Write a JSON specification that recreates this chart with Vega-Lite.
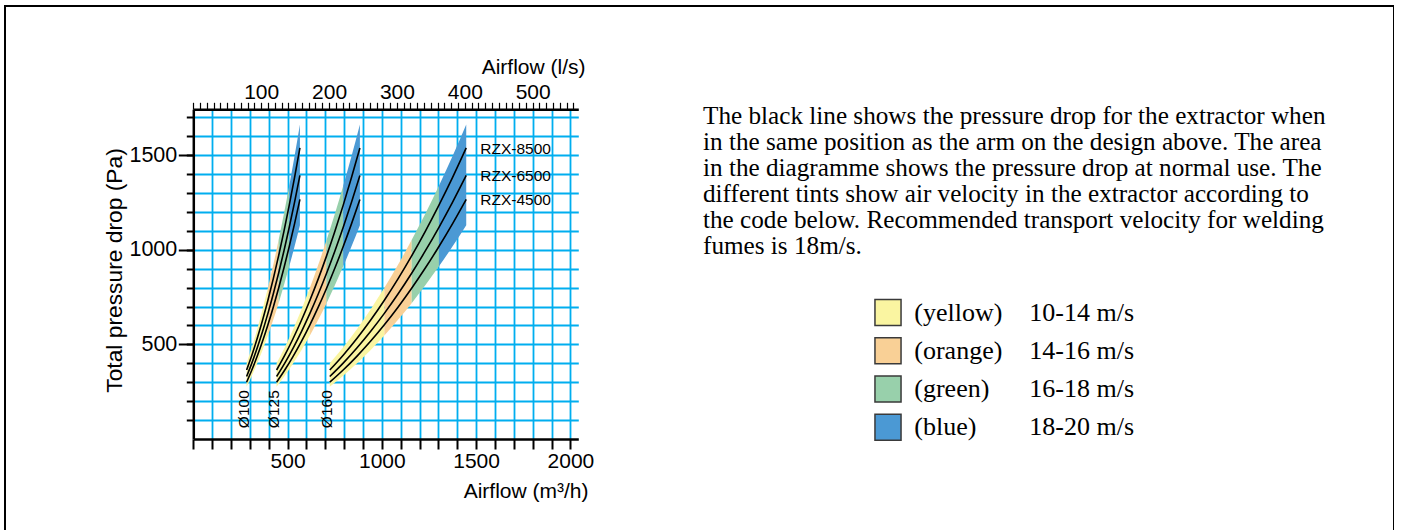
{
  "$schema": "https://vega.github.io/schema/vega-lite/v6.json",
  "width": 1389,
  "height": 524,
  "autosize": "none",
  "padding": {"left": 5, "top": 6, "right": 0, "bottom": 0},
  "background": "#ffffff",
  "config": {
    "view": {"stroke": "#000000", "strokeWidth": 2, "strokeDash": [1913, 1389, 540]},
    "font": "Liberation Sans",
    "axis": {
      "labelFont": "Liberation Sans", "titleFont": "Liberation Sans",
      "labelColor": "#000000", "titleColor": "#000000",
      "domainColor": "#000000", "tickColor": "#000000",
      "titleFontWeight": "normal", "labelFontSize": 21, "titleFontSize": 21,
      "gridColor": "#00AEEF", "gridWidth": 1.8, "gridOpacity": 1,
      "labelOverlap": false, "labelFlush": false, "format": "d"
    }
  },
  "datasets": {
    "bands": [
      {"d":"Ø100","tint":"yellow","v":10,"q":282.7,"lo":276,"hi":400},
      {"d":"Ø100","tint":"yellow","v":11,"q":311.0,"lo":335.0,"hi":486.6},
      {"d":"Ø100","tint":"yellow","v":12,"q":339.3,"lo":399.9,"hi":581.8},
      {"d":"Ø100","tint":"yellow","v":13,"q":367.6,"lo":470.6,"hi":685.8},
      {"d":"Ø100","tint":"yellow","v":14,"q":395.8,"lo":547.1,"hi":798.6},
      {"d":"Ø100","tint":"orange","v":14,"q":395.8,"lo":547.1,"hi":798.6},
      {"d":"Ø100","tint":"orange","v":15,"q":424.1,"lo":629.5,"hi":920.3},
      {"d":"Ø100","tint":"orange","v":16,"q":452.4,"lo":717.8,"hi":1050.8},
      {"d":"Ø100","tint":"green","v":16,"q":452.4,"lo":717.8,"hi":1050.8},
      {"d":"Ø100","tint":"green","v":17,"q":480.7,"lo":812.0,"hi":1190.2},
      {"d":"Ø100","tint":"green","v":18,"q":508.9,"lo":912.1,"hi":1338.6},
      {"d":"Ø100","tint":"blue","v":18,"q":508.9,"lo":912.1,"hi":1338.6},
      {"d":"Ø100","tint":"blue","v":19,"q":537.2,"lo":1018.1,"hi":1495.9},
      {"d":"Ø100","tint":"blue","v":20,"q":565.5,"lo":1130,"hi":1662},
      {"d":"Ø125","tint":"yellow","v":10,"q":441.8,"lo":276,"hi":400},
      {"d":"Ø125","tint":"yellow","v":11,"q":486.0,"lo":335.0,"hi":486.6},
      {"d":"Ø125","tint":"yellow","v":12,"q":530.1,"lo":399.9,"hi":581.8},
      {"d":"Ø125","tint":"yellow","v":13,"q":574.3,"lo":470.6,"hi":685.8},
      {"d":"Ø125","tint":"yellow","v":14,"q":618.5,"lo":547.1,"hi":798.6},
      {"d":"Ø125","tint":"orange","v":14,"q":618.5,"lo":547.1,"hi":798.6},
      {"d":"Ø125","tint":"orange","v":15,"q":662.7,"lo":629.5,"hi":920.3},
      {"d":"Ø125","tint":"orange","v":16,"q":706.9,"lo":717.8,"hi":1050.8},
      {"d":"Ø125","tint":"green","v":16,"q":706.9,"lo":717.8,"hi":1050.8},
      {"d":"Ø125","tint":"green","v":17,"q":751.0,"lo":812.0,"hi":1190.2},
      {"d":"Ø125","tint":"green","v":18,"q":795.2,"lo":912.1,"hi":1338.6},
      {"d":"Ø125","tint":"blue","v":18,"q":795.2,"lo":912.1,"hi":1338.6},
      {"d":"Ø125","tint":"blue","v":19,"q":839.4,"lo":1018.1,"hi":1495.9},
      {"d":"Ø125","tint":"blue","v":20,"q":883.6,"lo":1130,"hi":1662},
      {"d":"Ø160","tint":"yellow","v":10,"q":723.8,"lo":276,"hi":400},
      {"d":"Ø160","tint":"yellow","v":11,"q":796.2,"lo":335.0,"hi":486.6},
      {"d":"Ø160","tint":"yellow","v":12,"q":868.6,"lo":399.9,"hi":581.8},
      {"d":"Ø160","tint":"yellow","v":13,"q":941.0,"lo":470.6,"hi":685.8},
      {"d":"Ø160","tint":"yellow","v":14,"q":1013.3,"lo":547.1,"hi":798.6},
      {"d":"Ø160","tint":"orange","v":14,"q":1013.3,"lo":547.1,"hi":798.6},
      {"d":"Ø160","tint":"orange","v":15,"q":1085.7,"lo":629.5,"hi":920.3},
      {"d":"Ø160","tint":"orange","v":16,"q":1158.1,"lo":717.8,"hi":1050.8},
      {"d":"Ø160","tint":"green","v":16,"q":1158.1,"lo":717.8,"hi":1050.8},
      {"d":"Ø160","tint":"green","v":17,"q":1230.5,"lo":812.0,"hi":1190.2},
      {"d":"Ø160","tint":"green","v":18,"q":1302.9,"lo":912.1,"hi":1338.6},
      {"d":"Ø160","tint":"blue","v":18,"q":1302.9,"lo":912.1,"hi":1338.6},
      {"d":"Ø160","tint":"blue","v":19,"q":1375.3,"lo":1018.1,"hi":1495.9},
      {"d":"Ø160","tint":"blue","v":20,"q":1447.6,"lo":1130,"hi":1662}
    ],
    "lines": [
      {"d":"Ø100","model":"RZX-8500","v":10,"q":282.7,"ls":78.5,"p":364.5},
      {"d":"Ø100","model":"RZX-8500","v":11,"q":311.0,"ls":86.4,"p":444.3},
      {"d":"Ø100","model":"RZX-8500","v":12,"q":339.3,"ls":94.2,"p":532.3},
      {"d":"Ø100","model":"RZX-8500","v":13,"q":367.6,"ls":102.1,"p":628.6},
      {"d":"Ø100","model":"RZX-8500","v":14,"q":395.8,"ls":109.9,"p":733.2},
      {"d":"Ø100","model":"RZX-8500","v":15,"q":424.1,"ls":117.8,"p":846.1},
      {"d":"Ø100","model":"RZX-8500","v":16,"q":452.4,"ls":125.7,"p":967.5},
      {"d":"Ø100","model":"RZX-8500","v":17,"q":480.7,"ls":133.5,"p":1097.3},
      {"d":"Ø100","model":"RZX-8500","v":18,"q":508.9,"ls":141.4,"p":1235.7},
      {"d":"Ø100","model":"RZX-8500","v":19,"q":537.2,"ls":149.2,"p":1382.6},
      {"d":"Ø100","model":"RZX-8500","v":20,"q":565.5,"ls":157.1,"p":1538.0},
      {"d":"Ø100","model":"RZX-6500","v":10,"q":282.7,"ls":78.5,"p":330},
      {"d":"Ø100","model":"RZX-6500","v":11,"q":311.0,"ls":86.4,"p":402.2},
      {"d":"Ø100","model":"RZX-6500","v":12,"q":339.3,"ls":94.2,"p":481.9},
      {"d":"Ø100","model":"RZX-6500","v":13,"q":367.6,"ls":102.1,"p":569.1},
      {"d":"Ø100","model":"RZX-6500","v":14,"q":395.8,"ls":109.9,"p":663.8},
      {"d":"Ø100","model":"RZX-6500","v":15,"q":424.1,"ls":117.8,"p":766.0},
      {"d":"Ø100","model":"RZX-6500","v":16,"q":452.4,"ls":125.7,"p":875.9},
      {"d":"Ø100","model":"RZX-6500","v":17,"q":480.7,"ls":133.5,"p":993.5},
      {"d":"Ø100","model":"RZX-6500","v":18,"q":508.9,"ls":141.4,"p":1118.7},
      {"d":"Ø100","model":"RZX-6500","v":19,"q":537.2,"ls":149.2,"p":1251.7},
      {"d":"Ø100","model":"RZX-6500","v":20,"q":565.5,"ls":157.1,"p":1392.4},
      {"d":"Ø100","model":"RZX-4500","v":10,"q":282.7,"ls":78.5,"p":300},
      {"d":"Ø100","model":"RZX-4500","v":11,"q":311.0,"ls":86.4,"p":365.7},
      {"d":"Ø100","model":"RZX-4500","v":12,"q":339.3,"ls":94.2,"p":438.1},
      {"d":"Ø100","model":"RZX-4500","v":13,"q":367.6,"ls":102.1,"p":517.4},
      {"d":"Ø100","model":"RZX-4500","v":14,"q":395.8,"ls":109.9,"p":603.4},
      {"d":"Ø100","model":"RZX-4500","v":15,"q":424.1,"ls":117.8,"p":696.4},
      {"d":"Ø100","model":"RZX-4500","v":16,"q":452.4,"ls":125.7,"p":796.3},
      {"d":"Ø100","model":"RZX-4500","v":17,"q":480.7,"ls":133.5,"p":903.2},
      {"d":"Ø100","model":"RZX-4500","v":18,"q":508.9,"ls":141.4,"p":1017.0},
      {"d":"Ø100","model":"RZX-4500","v":19,"q":537.2,"ls":149.2,"p":1137.9},
      {"d":"Ø100","model":"RZX-4500","v":20,"q":565.5,"ls":157.1,"p":1265.8},
      {"d":"Ø125","model":"RZX-8500","v":10,"q":441.8,"ls":122.7,"p":364.5},
      {"d":"Ø125","model":"RZX-8500","v":11,"q":486.0,"ls":135.0,"p":444.3},
      {"d":"Ø125","model":"RZX-8500","v":12,"q":530.1,"ls":147.3,"p":532.3},
      {"d":"Ø125","model":"RZX-8500","v":13,"q":574.3,"ls":159.5,"p":628.6},
      {"d":"Ø125","model":"RZX-8500","v":14,"q":618.5,"ls":171.8,"p":733.2},
      {"d":"Ø125","model":"RZX-8500","v":15,"q":662.7,"ls":184.1,"p":846.1},
      {"d":"Ø125","model":"RZX-8500","v":16,"q":706.9,"ls":196.4,"p":967.5},
      {"d":"Ø125","model":"RZX-8500","v":17,"q":751.0,"ls":208.6,"p":1097.3},
      {"d":"Ø125","model":"RZX-8500","v":18,"q":795.2,"ls":220.9,"p":1235.7},
      {"d":"Ø125","model":"RZX-8500","v":19,"q":839.4,"ls":233.2,"p":1382.6},
      {"d":"Ø125","model":"RZX-8500","v":20,"q":883.6,"ls":245.4,"p":1538.0},
      {"d":"Ø125","model":"RZX-6500","v":10,"q":441.8,"ls":122.7,"p":330},
      {"d":"Ø125","model":"RZX-6500","v":11,"q":486.0,"ls":135.0,"p":402.2},
      {"d":"Ø125","model":"RZX-6500","v":12,"q":530.1,"ls":147.3,"p":481.9},
      {"d":"Ø125","model":"RZX-6500","v":13,"q":574.3,"ls":159.5,"p":569.1},
      {"d":"Ø125","model":"RZX-6500","v":14,"q":618.5,"ls":171.8,"p":663.8},
      {"d":"Ø125","model":"RZX-6500","v":15,"q":662.7,"ls":184.1,"p":766.0},
      {"d":"Ø125","model":"RZX-6500","v":16,"q":706.9,"ls":196.4,"p":875.9},
      {"d":"Ø125","model":"RZX-6500","v":17,"q":751.0,"ls":208.6,"p":993.5},
      {"d":"Ø125","model":"RZX-6500","v":18,"q":795.2,"ls":220.9,"p":1118.7},
      {"d":"Ø125","model":"RZX-6500","v":19,"q":839.4,"ls":233.2,"p":1251.7},
      {"d":"Ø125","model":"RZX-6500","v":20,"q":883.6,"ls":245.4,"p":1392.4},
      {"d":"Ø125","model":"RZX-4500","v":10,"q":441.8,"ls":122.7,"p":300},
      {"d":"Ø125","model":"RZX-4500","v":11,"q":486.0,"ls":135.0,"p":365.7},
      {"d":"Ø125","model":"RZX-4500","v":12,"q":530.1,"ls":147.3,"p":438.1},
      {"d":"Ø125","model":"RZX-4500","v":13,"q":574.3,"ls":159.5,"p":517.4},
      {"d":"Ø125","model":"RZX-4500","v":14,"q":618.5,"ls":171.8,"p":603.4},
      {"d":"Ø125","model":"RZX-4500","v":15,"q":662.7,"ls":184.1,"p":696.4},
      {"d":"Ø125","model":"RZX-4500","v":16,"q":706.9,"ls":196.4,"p":796.3},
      {"d":"Ø125","model":"RZX-4500","v":17,"q":751.0,"ls":208.6,"p":903.2},
      {"d":"Ø125","model":"RZX-4500","v":18,"q":795.2,"ls":220.9,"p":1017.0},
      {"d":"Ø125","model":"RZX-4500","v":19,"q":839.4,"ls":233.2,"p":1137.9},
      {"d":"Ø125","model":"RZX-4500","v":20,"q":883.6,"ls":245.4,"p":1265.8},
      {"d":"Ø160","model":"RZX-8500","v":10,"q":723.8,"ls":201.1,"p":364.5},
      {"d":"Ø160","model":"RZX-8500","v":11,"q":796.2,"ls":221.2,"p":444.3},
      {"d":"Ø160","model":"RZX-8500","v":12,"q":868.6,"ls":241.3,"p":532.3},
      {"d":"Ø160","model":"RZX-8500","v":13,"q":941.0,"ls":261.4,"p":628.6},
      {"d":"Ø160","model":"RZX-8500","v":14,"q":1013.3,"ls":281.5,"p":733.2},
      {"d":"Ø160","model":"RZX-8500","v":15,"q":1085.7,"ls":301.6,"p":846.1},
      {"d":"Ø160","model":"RZX-8500","v":16,"q":1158.1,"ls":321.7,"p":967.5},
      {"d":"Ø160","model":"RZX-8500","v":17,"q":1230.5,"ls":341.8,"p":1097.3},
      {"d":"Ø160","model":"RZX-8500","v":18,"q":1302.9,"ls":361.9,"p":1235.7},
      {"d":"Ø160","model":"RZX-8500","v":19,"q":1375.3,"ls":382.0,"p":1382.6},
      {"d":"Ø160","model":"RZX-8500","v":20,"q":1447.6,"ls":402.1,"p":1538.0},
      {"d":"Ø160","model":"RZX-6500","v":10,"q":723.8,"ls":201.1,"p":330},
      {"d":"Ø160","model":"RZX-6500","v":11,"q":796.2,"ls":221.2,"p":402.2},
      {"d":"Ø160","model":"RZX-6500","v":12,"q":868.6,"ls":241.3,"p":481.9},
      {"d":"Ø160","model":"RZX-6500","v":13,"q":941.0,"ls":261.4,"p":569.1},
      {"d":"Ø160","model":"RZX-6500","v":14,"q":1013.3,"ls":281.5,"p":663.8},
      {"d":"Ø160","model":"RZX-6500","v":15,"q":1085.7,"ls":301.6,"p":766.0},
      {"d":"Ø160","model":"RZX-6500","v":16,"q":1158.1,"ls":321.7,"p":875.9},
      {"d":"Ø160","model":"RZX-6500","v":17,"q":1230.5,"ls":341.8,"p":993.5},
      {"d":"Ø160","model":"RZX-6500","v":18,"q":1302.9,"ls":361.9,"p":1118.7},
      {"d":"Ø160","model":"RZX-6500","v":19,"q":1375.3,"ls":382.0,"p":1251.7},
      {"d":"Ø160","model":"RZX-6500","v":20,"q":1447.6,"ls":402.1,"p":1392.4},
      {"d":"Ø160","model":"RZX-4500","v":10,"q":723.8,"ls":201.1,"p":300},
      {"d":"Ø160","model":"RZX-4500","v":11,"q":796.2,"ls":221.2,"p":365.7},
      {"d":"Ø160","model":"RZX-4500","v":12,"q":868.6,"ls":241.3,"p":438.1},
      {"d":"Ø160","model":"RZX-4500","v":13,"q":941.0,"ls":261.4,"p":517.4},
      {"d":"Ø160","model":"RZX-4500","v":14,"q":1013.3,"ls":281.5,"p":603.4},
      {"d":"Ø160","model":"RZX-4500","v":15,"q":1085.7,"ls":301.6,"p":696.4},
      {"d":"Ø160","model":"RZX-4500","v":16,"q":1158.1,"ls":321.7,"p":796.3},
      {"d":"Ø160","model":"RZX-4500","v":17,"q":1230.5,"ls":341.8,"p":903.2},
      {"d":"Ø160","model":"RZX-4500","v":18,"q":1302.9,"ls":361.9,"p":1017.0},
      {"d":"Ø160","model":"RZX-4500","v":19,"q":1375.3,"ls":382.0,"p":1137.9},
      {"d":"Ø160","model":"RZX-4500","v":20,"q":1447.6,"ls":402.1,"p":1265.8}
    ],
    "notes": [
      {"line": 1, "text": "The black line shows the pressure drop for the extractor when"},
      {"line": 2, "text": "in the same position as the arm on the design above. The area"},
      {"line": 3, "text": "in the diagramme shows the pressure drop at normal use. The"},
      {"line": 4, "text": "different tints show air velocity in the extractor according to"},
      {"line": 5, "text": "the code below. Recommended transport velocity for welding"},
      {"line": 6, "text": "fumes is 18m/s."}
    ],
    "key": [
      {"tint": "yellow", "name": "(yellow)", "speed": "10-14 m/s"},
      {"tint": "orange", "name": "(orange)", "speed": "14-16 m/s"},
      {"tint": "green", "name": "(green)", "speed": "16-18 m/s"},
      {"tint": "blue", "name": "(blue)", "speed": "18-20 m/s"}
    ]
  },
  "layer": [
    {
      "layer": [
        {
          "data": {"name": "bands"},
          "mark": {"type": "area", "interpolate": "monotone", "opacity": 1},
          "encoding": {
            "x": {
              "field": "q", "type": "quantitative",
              "scale": {"domain": [0, 2042], "range": [188.3, 573.3], "nice": false, "zero": false},
              "axis": {
                "orient": "bottom", "offset": -91,
                "values": [0,100,200,300,400,500,600,700,800,900,1000,1100,1200,1300,1400,1500,1600,1700,1800,1900,2000],
                "tickSize": 10, "tickWidth": 2, "domainWidth": 2.5,
                "labelExpr": "datum.value % 500 === 0 && datum.value > 0 ? datum.label : ''",
                "labelPadding": 1, "grid": false,
                "title": "Airflow (m³/h)", "titleX": 583, "titleY": 58.7,
                "titleAlign": "right", "titleBaseline": "alphabetic", "titleAngle": 0
              }
            },
            "y": {
              "field": "hi", "type": "quantitative",
              "scale": {"domain": [0, 1742], "range": [433, 103.3], "nice": false, "zero": false},
              "axis": {
                "orient": "left", "offset": -188.3,
                "values": [100,200,300,400,500,600,700,800,900,1000,1100,1200,1300,1400,1500,1600,1700],
                "tickSize": 7, "tickWidth": 2, "domainWidth": 2.5,
                "labels": false, "grid": true, "title": null
              }
            },
            "y2": {"field": "lo"},
            "color": {
              "field": "tint", "type": "nominal",
              "scale": {"domain": ["yellow", "orange", "green", "blue"], "range": ["#FAF5A1", "#F9D096", "#98D0AB", "#4B99D4"]},
              "legend": null
            },
            "detail": {"field": "d"}
          }
        },
        {
          "data": {"name": "lines"},
          "mark": {"type": "line", "interpolate": "monotone", "color": "#000000", "strokeWidth": 1.6},
          "encoding": {
            "x": {
              "field": "q", "type": "quantitative",
              "axis": {
                "orient": "top", "offset": -103.3,
                "values": [100,200,300,400,500,600,700,800,900,1000,1100,1200,1300,1400,1500,1600,1700,1800,1900,2000],
                "grid": true, "domain": false, "ticks": false, "labels": false, "title": null
              }
            },
            "y": {"field": "p", "type": "quantitative", "axis": null},
            "detail": [{"field": "d"}, {"field": "model"}]
          }
        },
        {
          "data": {"name": "lines"},
          "transform": [{"filter": "datum.model === 'RZX-4500' && datum.v === 10"}],
          "mark": {"type": "text", "angle": 270, "align": "right", "baseline": "alphabetic", "dx": -8, "dy": 2, "fontSize": 15.5, "font": "Liberation Sans", "color": "#000000"},
          "encoding": {
            "x": {"field": "q", "type": "quantitative", "axis": null},
            "y": {
              "field": "p", "type": "quantitative",
              "axis": {
                "orient": "left", "offset": -188.3,
                "values": [500, 1000, 1500],
                "tickSize": 15, "tickWidth": 2, "domain": false, "grid": false,
                "labelPadding": 1.5, "labelBaseline": "middle", "labelFontSize": 21.5,
                "title": "Total pressure drop (Pa)", "titleAngle": 270, "titleFontSize": 22.8,
                "titleX": -72, "titleY": 264, "titleAlign": "center", "titleBaseline": "alphabetic"
              }
            },
            "text": {"field": "d"}
          }
        }
      ],
      "resolve": {"axis": {"x": "independent", "y": "independent"}}
    },
    {
      "data": {"name": "lines"},
      "transform": [{"filter": "datum.d === 'Ø160' && datum.v === 20"}],
      "mark": {"type": "text", "align": "left", "baseline": "middle", "dx": 14, "dy": 1, "fontSize": 15.5, "font": "Liberation Sans", "color": "#000000"},
      "encoding": {
        "x": {
          "field": "ls", "type": "quantitative",
          "scale": {"domain": [0, 567.22], "range": [188.3, 573.3], "nice": false, "zero": false},
          "axis": {
            "orient": "top", "offset": -103.3,
            "values": [0,10,20,30,40,50,60,70,80,90,100,110,120,130,140,150,160,170,180,190,200,210,220,230,240,250,260,270,280,290,300,310,320,330,340,350,360,370,380,390,400,410,420,430,440,450,460,470,480,490,500,510,520,530,540,550,560],
            "tickSize": 7, "tickWidth": 1.2, "domainWidth": 2.5,
            "labelExpr": "datum.value % 100 === 0 && datum.value > 0 ? datum.label : ''",
            "labelBaseline": "alphabetic", "labelPadding": 4, "grid": false,
            "title": "Airflow (l/s)", "titleX": 580, "titleY": -36,
            "titleAlign": "right", "titleBaseline": "alphabetic", "titleAngle": 0
          }
        },
        "y": {
          "field": "p", "type": "quantitative",
          "scale": {"domain": [0, 1742], "range": [433, 103.3], "nice": false, "zero": false},
          "axis": null
        },
        "text": {"field": "model"}
      }
    },
    {
      "data": {"name": "notes"},
      "mark": {"type": "text", "align": "left", "baseline": "alphabetic", "font": "Liberation Serif", "fontSize": 25.2, "color": "#000000"},
      "encoding": {
        "x": {"datum": 0, "type": "quantitative", "scale": {"domain": [0, 1], "range": [698, 1335]}, "axis": null},
        "y": {"field": "line", "type": "quantitative", "scale": {"domain": [1, 6], "range": [118.3, 248.3]}, "axis": null},
        "text": {"field": "text"}
      }
    },
    {
      "data": {"name": "key"},
      "encoding": {
        "x": {"datum": 0, "type": "quantitative", "scale": {"domain": [0, 1], "range": [883, 1024]}, "axis": null},
        "y": {"field": "tint", "type": "nominal", "scale": {"type": "point", "domain": ["yellow", "orange", "green", "blue"], "range": [306.5, 421.3], "padding": 0}, "axis": null}
      },
      "layer": [
        {
          "mark": {"type": "square", "size": 680, "filled": true, "stroke": "#3a3a3a", "strokeWidth": 1.5, "opacity": 1},
          "encoding": {"color": {"field": "tint", "type": "nominal", "legend": null}}
        },
        {
          "mark": {"type": "text", "align": "left", "baseline": "middle", "dx": 26.3, "font": "Liberation Serif", "fontSize": 26, "color": "#000000"},
          "encoding": {"text": {"field": "name"}}
        },
        {
          "mark": {"type": "text", "align": "left", "baseline": "middle", "dx": 141.3, "font": "Liberation Serif", "fontSize": 26, "color": "#000000"},
          "encoding": {"text": {"field": "speed"}}
        }
      ]
    }
  ],
  "resolve": {"scale": {"x": "independent", "y": "independent"}}
}
